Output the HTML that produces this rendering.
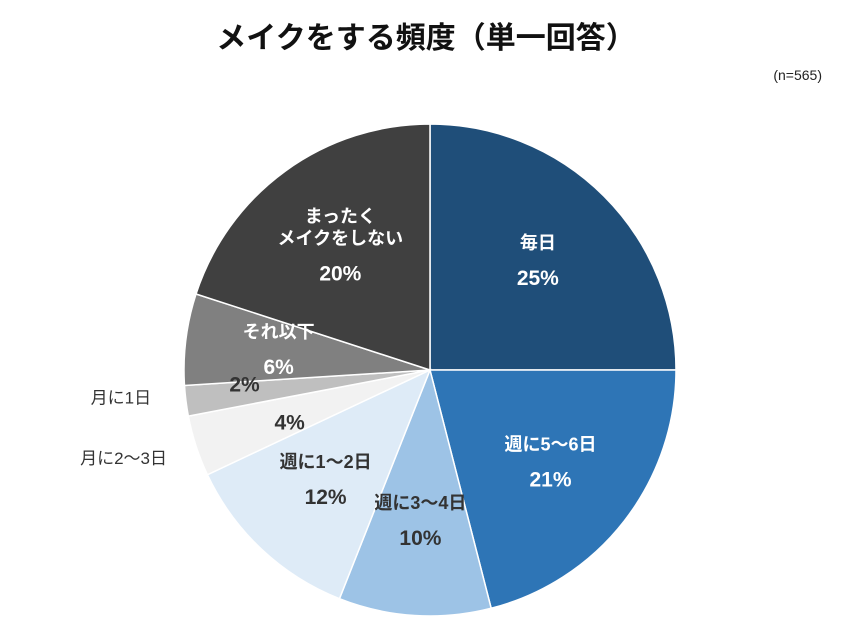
<!DOCTYPE html>
<html><head><meta charset="utf-8"><style>
body{margin:0;background:#fff;}
svg{display:block;font-family:"Liberation Sans","Noto Sans CJK JP",sans-serif;}
</style></head><body>
<svg width="853" height="640" viewBox="0 0 853 640">
<text x="426" y="48" text-anchor="middle" font-size="30" font-weight="bold" fill="#111">メイクをする頻度（単一回答）</text>
<text x="822" y="80" text-anchor="end" font-size="14" fill="#222">(n=565)</text>
<g id="slices"></g>
<g id="labels"></g>
</svg>
<script>
const categories=["毎日","週に5～6日","週に3～4日","週に1～2日","月に2～3日","月に1日","それ以下","まったく\nメイクをしない"];
const values=[25,21,10,12,4,2,6,20];
const pctLabels=["25%","21%","10%","12%","4%","2%","6%","20%"];
const colors=["#1f4e79","#2e75b6","#9dc3e6","#deebf7","#f2f2f2","#bfbfbf","#808080","#404040"];
const textColors=["#fff","#fff","#333","#333","#333","#333","#fff","#fff"];
const cx=430,cy=370,R=246;
const NS="http://www.w3.org/2000/svg";
const gS=document.getElementById('slices'),gL=document.getElementById('labels');
const total=values.reduce((a,b)=>a+b,0);
function pt(a,r){return [cx+r*Math.sin(a),cy-r*Math.cos(a)];}
let acc=0;
values.forEach((v,i)=>{
  const a0=acc/total*2*Math.PI;acc+=v;const a1=acc/total*2*Math.PI;
  const p0=pt(a0,R),p1=pt(a1,R);
  const p=document.createElementNS(NS,'path');
  p.setAttribute('d',`M${cx},${cy}L${p0[0]},${p0[1]}A${R},${R} 0 ${a1-a0>Math.PI?1:0} 1 ${p1[0]},${p1[1]}Z`);
  p.setAttribute('fill',colors[i]);p.setAttribute('stroke','#fff');p.setAttribute('stroke-width','1.5');
  
  
  gS.appendChild(p);
  const am=(a0+a1)/2;
  const small=v<5;
  const lr=small?R*0.62:R*0.62;
  const c=pt(am,lr);
  const lines=categories[i].split("\n");
  if(small){
    const o=pt(am,R+20);
    const t=document.createElementNS(NS,'text');
    t.setAttribute('x',o[0]-(i==5?15:10));t.setAttribute('y',o[1]+(i==5?0:12));
    t.setAttribute('text-anchor','end');t.setAttribute('font-size','17');t.setAttribute('fill','#333');
    t.textContent=categories[i];
    
    
    gL.appendChild(t);
    const q=document.createElementNS(NS,'text');
    const pc=pt(am,R*(i==5?0.76:0.6));
    q.setAttribute('x',pc[0]);q.setAttribute('y',pc[1]+(i==5?-2:14));
    q.setAttribute('text-anchor','middle');q.setAttribute('font-size','21');q.setAttribute('font-weight','bold');q.setAttribute('fill','#333');
    q.textContent=pctLabels[i];
    
    
    gL.appendChild(q);
  } else {
    const lh=22;const startY=c[1]-(lines.length*lh)/2-2;
    lines.forEach((ln,k)=>{
      const t=document.createElementNS(NS,'text');
      t.setAttribute('x',c[0]);t.setAttribute('y',startY+k*lh);
      t.setAttribute('text-anchor','middle');t.setAttribute('font-size','18');t.setAttribute('font-weight','bold');t.setAttribute('fill',textColors[i]);
      t.textContent=ln;
      
      
      gL.appendChild(t);
    });
    const q=document.createElementNS(NS,'text');
    q.setAttribute('x',c[0]);q.setAttribute('y',startY+lines.length*lh+14);
    q.setAttribute('text-anchor','middle');q.setAttribute('font-size','21');q.setAttribute('font-weight','bold');q.setAttribute('fill',textColors[i]);
    q.textContent=pctLabels[i];
    
    
    gL.appendChild(q);
  }
});
</script>
</body></html>
